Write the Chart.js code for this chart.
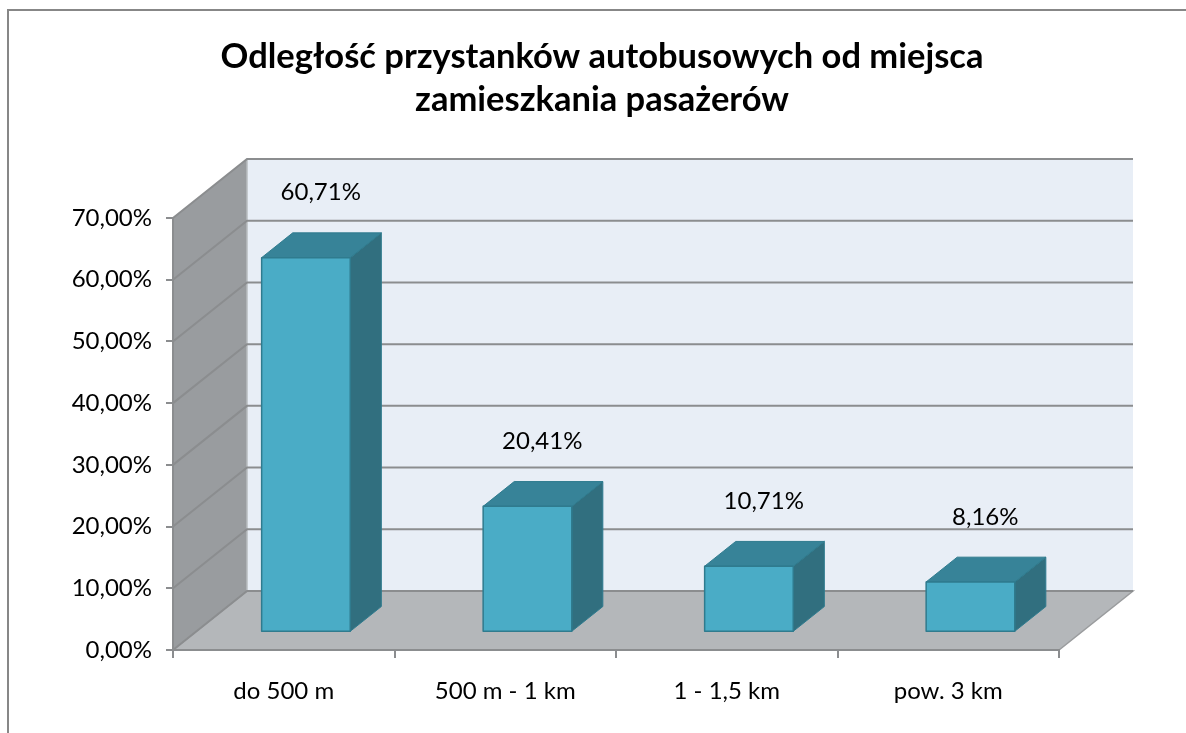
<!DOCTYPE html>
<html lang="pl">
<head>
<meta charset="utf-8">
<title>Odległość przystanków autobusowych</title>
<script src="https://cdn.jsdelivr.net/npm/chart.js@4.4.1/dist/chart.umd.min.js"></script>
<style>
  html, body { margin: 0; padding: 0; background: #fff; }
  canvas { display: block; }
</style>
</head>
<body>
<canvas id="chart" width="1186" height="733"></canvas>
<script>
const categories = ['do 500 m', '500 m - 1 km', '1 - 1,5 km', 'pow. 3 km'];
const shares = [60.71, 20.41, 10.71, 8.16];
const yMin = 0, yMax = 70, yStep = 10;
const titleLines = ['Odległość przystanków autobusowych od miejsca', 'zamieszkania pasażerów'];

// pseudo-3d: how far the back wall sits from the axes, and where the bars sit in that depth
const DEPTH_X = 74, DEPTH_Y = -59;
const BAR_FRONT = 0.3, BAR_BACK = 0.72;

const GRID = '#8b8d8f';
const FONT = 'Lato, "Open Sans", sans-serif';

const pct = v => Number(v).toFixed(2).replace('.', ',') + '%';

function poly(ctx, pts, fill, stroke, lw) {
  ctx.beginPath();
  ctx.moveTo(pts[0][0], pts[0][1]);
  for (let i = 1; i < pts.length; i++) ctx.lineTo(pts[i][0], pts[i][1]);
  ctx.closePath();
  if (fill) { ctx.fillStyle = fill; ctx.fill(); }
  if (stroke) { ctx.strokeStyle = stroke; ctx.lineWidth = lw || 1; ctx.stroke(); }
}

const box3d = {
  id: 'box3d',
  beforeDraw(chart) {
    const ctx = chart.ctx;
    const { left: L, right: R, top: T, bottom: B } = chart.chartArea;
    const yScale = chart.scales.y;
    ctx.save();

    // frame of the chart object
    ctx.strokeStyle = '#878787';
    ctx.lineWidth = 2;
    ctx.beginPath();
    ctx.moveTo(8, chart.height);
    ctx.lineTo(8, 10);
    ctx.lineTo(chart.width, 10);
    ctx.stroke();

    // title, centred a little left of the canvas middle
    ctx.fillStyle = '#000';
    ctx.font = 'bold 34.5px ' + FONT;
    ctx.textAlign = 'center';
    ctx.textBaseline = 'middle';
    titleLines.forEach((line, i) => ctx.fillText(line, 602, 57 + i * 43));

    // side wall, back wall, floor
    poly(ctx, [[L, T], [L + DEPTH_X, T + DEPTH_Y], [L + DEPTH_X, B + DEPTH_Y], [L, B]], '#999c9f');
    poly(ctx, [[L + DEPTH_X, T + DEPTH_Y], [R + DEPTH_X, T + DEPTH_Y], [R + DEPTH_X, B + DEPTH_Y], [L + DEPTH_X, B + DEPTH_Y]], '#e8eef6');
    poly(ctx, [[L, B], [L + DEPTH_X, B + DEPTH_Y], [R + DEPTH_X, B + DEPTH_Y], [R, B]], '#b4b7ba', '#9a9c9e', 1.5);

    ctx.strokeStyle = '#b9bcbf';
    ctx.lineWidth = 1.5;
    ctx.beginPath();
    ctx.moveTo(L + DEPTH_X, T + DEPTH_Y);
    ctx.lineTo(L + DEPTH_X, B + DEPTH_Y);
    ctx.stroke();

    // gridlines bent over the side wall and the back wall
    ctx.strokeStyle = GRID;
    ctx.lineWidth = 2;
    yScale.ticks.forEach(t => {
      const y = yScale.getPixelForValue(t.value);
      ctx.beginPath();
      ctx.moveTo(L, y);
      ctx.lineTo(L + DEPTH_X, y + DEPTH_Y);
      ctx.lineTo(R + DEPTH_X, y + DEPTH_Y);
      ctx.stroke();
    });
    ctx.restore();
  },
  afterDatasetsDraw(chart) {
    const ctx = chart.ctx;
    const meta = chart.getDatasetMeta(0);
    const values = chart.data.datasets[0].data;
    const fx = DEPTH_X * BAR_FRONT, fy = DEPTH_Y * BAR_FRONT;
    const bdx = DEPTH_X * (BAR_BACK - BAR_FRONT), bdy = DEPTH_Y * (BAR_BACK - BAR_FRONT);
    ctx.save();
    ctx.lineJoin = 'round';
    meta.data.forEach((bar, i) => {
      const { x, y, base, width } = bar.getProps(['x', 'y', 'base', 'width'], true);
      const x0 = x - width / 2 + fx, x1 = x + width / 2 + fx;
      const yt = y + fy, yb = base + fy;
      const edge = '#2f7b8e';
      // right side
      poly(ctx, [[x1, yt], [x1 + bdx, yt + bdy], [x1 + bdx, yb + bdy], [x1, yb]], '#316f7f', edge, 1);
      // top
      poly(ctx, [[x0, yt], [x1, yt], [x1 + bdx, yt + bdy], [x0 + bdx, yt + bdy]], '#378398', edge, 1);
      // front
      poly(ctx, [[x0, yt], [x1, yt], [x1, yb], [x0, yb]], '#4aacc6', edge, 1.5);

      ctx.fillStyle = '#000';
      ctx.font = '24px ' + FONT;
      ctx.textAlign = 'center';
      ctx.textBaseline = 'middle';
      ctx.fillText(pct(values[i]), x + DEPTH_X * 0.5, yt - 65);
    });
    ctx.restore();
  }
};

new Chart(document.getElementById('chart'), {
  type: 'bar',
  data: {
    labels: categories,
    datasets: [{
      data: shares,
      backgroundColor: 'rgba(0,0,0,0)',
      borderWidth: 0,
      categoryPercentage: 1,
      barPercentage: 0.4
    }]
  },
  options: {
    responsive: false,
    animation: false,
    layout: { padding: { left: 10, right: 127, top: 218, bottom: 23 } },
    plugins: {
      legend: { display: false },
      tooltip: { enabled: false },
      title: { display: false }
    },
    scales: {
      x: {
        afterFit(scale) { scale.height = 60; },
        grid: { display: true, drawOnChartArea: false, drawTicks: true, tickLength: 8, color: GRID, lineWidth: 2 },
        border: { display: true, color: GRID, width: 2 },
        ticks: { color: '#000', padding: 19, font: { family: FONT, size: 24 } }
      },
      y: {
        min: yMin,
        max: yMax,
        afterFit(scale) { scale.width = 163; },
        grid: { display: true, drawOnChartArea: false, drawTicks: true, tickLength: 7, color: GRID, lineWidth: 2 },
        border: { display: true, color: GRID, width: 2 },
        ticks: { stepSize: yStep, color: '#000', padding: 14, font: { family: FONT, size: 24 }, callback: v => pct(v) }
      }
    }
  },
  plugins: [box3d]
});
</script>
</body>
</html>
